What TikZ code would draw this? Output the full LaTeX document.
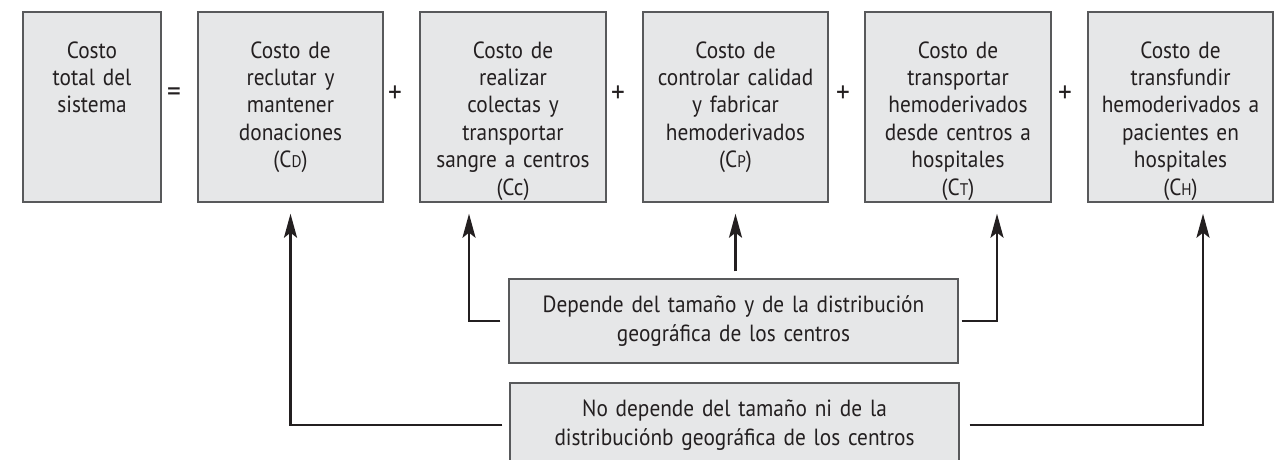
\documentclass[tikz,border=0pt]{standalone}
\usepackage{fontspec}
\setmainfont[FakeStretch=0.91]{PT Sans}
\usetikzlibrary{arrows.meta}
\definecolor{boxfill}{HTML}{E6E7E8}
\definecolor{boxline}{HTML}{58595B}
\definecolor{ink}{HTML}{231F20}
\newcommand{\smc}[1]{{\fontsize{16.8}{16.8}\selectfont #1}}
\begin{document}
\begin{tikzpicture}[x=1pt,y=-1pt,
  topbox/.style={draw=boxline, fill=boxfill, line width=1.4pt, minimum height=190pt, inner sep=0pt},
  toptext/.style={anchor=north, text width=180pt, align=center, inner sep=0pt, text=ink, font=\fontsize{23.4}{27.4}\selectfont},
  lowbox/.style={draw=boxline, fill=boxfill, line width=1.4pt, minimum width=449pt, minimum height=84pt, text width=445pt, align=center, text=ink, font=\fontsize{23.4}{28.6}\selectfont, inner sep=0pt},
  sym/.style={text=ink, font=\fontsize{30}{30}\selectfont, inner sep=0pt},
  arr/.style={draw=ink, line width=2.6pt, -{Stealth[length=24pt,width=13pt,inset=5pt]}}]
\useasboundingbox (0,0) rectangle (1284,460);
\clip (0,0) rectangle (1284,460);
% top boxes
\node[topbox, minimum width=138pt] (b1) at (92,107) {};
\node[topbox, minimum width=185pt] (b2) at (290.5,107) {};
\node[topbox, minimum width=186pt] (b3) at (513,107) {};
\node[topbox, minimum width=185pt] (b4) at (735.5,107) {};
\node[topbox, minimum width=186pt] (b5) at (958,107) {};
\node[topbox, minimum width=185pt] (b6) at (1180.5,107) {};
% texts
\node[toptext] (t1) at ([yshift=-30pt]b1.north) {Costo\\total del\\sistema};
\node[toptext] (t2) at ([yshift=-30pt]b2.north) {Costo de\\reclutar y\\mantener\\donaciones\\(C\smc{D})};
\node[toptext] (t3) at ([yshift=-30pt]b3.north) {Costo de\\realizar\\colectas y\\transportar\\sangre a centros\\(Cc)};
\node[toptext] (t4) at ([yshift=-30pt]b4.north) {Costo de\\controlar calidad\\y fabricar\\hemoderivados\\(C\smc{P})};
\node[toptext] (t5) at ([yshift=-30pt]b5.north) {Costo de\\transportar\\hemoderivados\\desde centros a\\hospitales\\(C\smc{T})};
\node[toptext] (t6) at ([yshift=-30pt]b6.north) {Costo de\\transfundir\\hemoderivados a\\pacientes en\\hospitales\\(C\smc{H})};
% operators
\node[sym] (eq) at (174,95) {=};
\node[sym] (p1) at (395,94) {+};
\node[sym] (p2) at (618,94) {+};
\node[sym] (p3) at (843,94) {+};
\node[sym] (p4) at (1065,94) {+};
% lower boxes
\node[lowbox] (bA) at (733.5,321) {Depende del tamaño y de la distribución\\geográfica de los centros};
\node[lowbox] (bB) at (734.5,425) {No depende del tamaño ni de la\\distribuciónb geográfica de los centros};
% connectors
\draw[arr] ([xshift=-7pt]bB.west) -| ([yshift=-11pt]b2.south);
\draw[arr] ([xshift=-8pt]bA.west) -| ([xshift=-44pt,yshift=-11pt]b3.south);
\coordinate (pA) at (b4.south |- bA.north);
\draw[arr] ([yshift=7pt]pA) -- ([yshift=-11pt]b4.south);
\draw[arr] ([xshift=3pt]bA.east) -| ([xshift=39pt,yshift=-11pt]b5.south);
\draw[arr] ([xshift=10pt]bB.east) -| ([xshift=22.5pt,yshift=-11pt]b6.south);
\end{tikzpicture}
\end{document}
